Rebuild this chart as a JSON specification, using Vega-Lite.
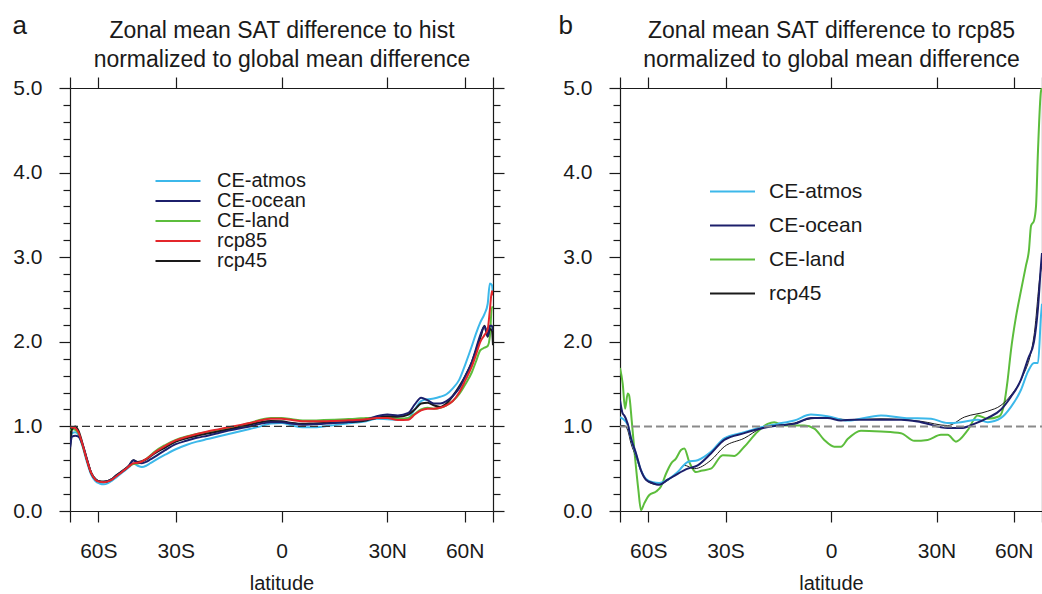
{
  "$schema": "https://vega.github.io/schema/vega-lite/v6.json",
  "padding": {"left": 12, "top": 12, "right": 0, "bottom": 0},
  "background": "white",
  "config": {
    "font": "Liberation Sans",
    "view": {"stroke": null},
    "concat": {"spacing": 53},
    "axis": {
      "grid": false,
      "domainColor": "#1a1a1a",
      "tickColor": "#1a1a1a",
      "domainWidth": 1.2,
      "tickWidth": 1.2,
      "labelFont": "Liberation Sans",
      "labelFontSize": 21,
      "labelColor": "#1a1a1a",
      "titleFont": "Liberation Sans",
      "titleColor": "#1a1a1a",
      "titleFontWeight": "normal",
      "labelFlush": false,
      "labelOverlap": false,
      "labelBound": false
    },
    "legend": {
      "labelFont": "Liberation Sans",
      "labelColor": "#1a1a1a",
      "padding": 0
    }
  },
  "datasets": {
    "a": [
      {"series":"CE-atmos","s":-1,"v":0.78},{"series":"CE-atmos","s":-0.99,"v":0.92},{"series":"CE-atmos","s":-0.975,"v":0.93},{"series":"CE-atmos","s":-0.96,"v":0.9},{"series":"CE-atmos","s":-0.94,"v":0.76},{"series":"CE-atmos","s":-0.92,"v":0.58},{"series":"CE-atmos","s":-0.9,"v":0.43},{"series":"CE-atmos","s":-0.88,"v":0.355},{"series":"CE-atmos","s":-0.86,"v":0.325},{"series":"CE-atmos","s":-0.84,"v":0.315},{"series":"CE-atmos","s":-0.82,"v":0.33},{"series":"CE-atmos","s":-0.8,"v":0.36},{"series":"CE-atmos","s":-0.78,"v":0.4},{"series":"CE-atmos","s":-0.76,"v":0.44},{"series":"CE-atmos","s":-0.74,"v":0.48},{"series":"CE-atmos","s":-0.72,"v":0.52},{"series":"CE-atmos","s":-0.7,"v":0.56},{"series":"CE-atmos","s":-0.68,"v":0.535},{"series":"CE-atmos","s":-0.66,"v":0.52},{"series":"CE-atmos","s":-0.64,"v":0.535},{"series":"CE-atmos","s":-0.62,"v":0.565},{"series":"CE-atmos","s":-0.6,"v":0.595},{"series":"CE-atmos","s":-0.55,"v":0.665},{"series":"CE-atmos","s":-0.5,"v":0.73},{"series":"CE-atmos","s":-0.45,"v":0.78},{"series":"CE-atmos","s":-0.4,"v":0.82},{"series":"CE-atmos","s":-0.35,"v":0.85},{"series":"CE-atmos","s":-0.3,"v":0.88},{"series":"CE-atmos","s":-0.25,"v":0.91},{"series":"CE-atmos","s":-0.2,"v":0.94},{"series":"CE-atmos","s":-0.15,"v":0.97},{"series":"CE-atmos","s":-0.1,"v":1.0},{"series":"CE-atmos","s":-0.05,"v":1.035},{"series":"CE-atmos","s":0,"v":1.04},{"series":"CE-atmos","s":0.05,"v":1.01},{"series":"CE-atmos","s":0.1,"v":0.99},{"series":"CE-atmos","s":0.15,"v":0.99},{"series":"CE-atmos","s":0.2,"v":1.0},{"series":"CE-atmos","s":0.25,"v":1.015},{"series":"CE-atmos","s":0.3,"v":1.03},{"series":"CE-atmos","s":0.35,"v":1.045},{"series":"CE-atmos","s":0.4,"v":1.06},{"series":"CE-atmos","s":0.45,"v":1.09},{"series":"CE-atmos","s":0.5,"v":1.085},{"series":"CE-atmos","s":0.55,"v":1.08},{"series":"CE-atmos","s":0.6,"v":1.1},{"series":"CE-atmos","s":0.63,"v":1.2},{"series":"CE-atmos","s":0.66,"v":1.3},{"series":"CE-atmos","s":0.69,"v":1.32},{"series":"CE-atmos","s":0.72,"v":1.33},{"series":"CE-atmos","s":0.75,"v":1.35},{"series":"CE-atmos","s":0.78,"v":1.38},{"series":"CE-atmos","s":0.81,"v":1.45},{"series":"CE-atmos","s":0.84,"v":1.55},{"series":"CE-atmos","s":0.87,"v":1.74},{"series":"CE-atmos","s":0.9,"v":1.95},{"series":"CE-atmos","s":0.92,"v":2.1},{"series":"CE-atmos","s":0.94,"v":2.23},{"series":"CE-atmos","s":0.96,"v":2.33},{"series":"CE-atmos","s":0.975,"v":2.45},{"series":"CE-atmos","s":0.985,"v":2.69},{"series":"CE-atmos","s":0.995,"v":2.67},{"series":"CE-atmos","s":1,"v":2.55},

      {"series":"CE-land","s":-1,"v":0.95},{"series":"CE-land","s":-0.99,"v":0.97},{"series":"CE-land","s":-0.975,"v":0.96},{"series":"CE-land","s":-0.96,"v":0.92},{"series":"CE-land","s":-0.94,"v":0.77},{"series":"CE-land","s":-0.92,"v":0.6},{"series":"CE-land","s":-0.9,"v":0.45},{"series":"CE-land","s":-0.88,"v":0.375},{"series":"CE-land","s":-0.86,"v":0.35},{"series":"CE-land","s":-0.84,"v":0.345},{"series":"CE-land","s":-0.82,"v":0.355},{"series":"CE-land","s":-0.8,"v":0.38},{"series":"CE-land","s":-0.78,"v":0.42},{"series":"CE-land","s":-0.76,"v":0.455},{"series":"CE-land","s":-0.74,"v":0.49},{"series":"CE-land","s":-0.72,"v":0.53},{"series":"CE-land","s":-0.7,"v":0.555},{"series":"CE-land","s":-0.68,"v":0.56},{"series":"CE-land","s":-0.66,"v":0.58},{"series":"CE-land","s":-0.64,"v":0.615},{"series":"CE-land","s":-0.62,"v":0.655},{"series":"CE-land","s":-0.6,"v":0.7},{"series":"CE-land","s":-0.55,"v":0.78},{"series":"CE-land","s":-0.5,"v":0.84},{"series":"CE-land","s":-0.45,"v":0.88},{"series":"CE-land","s":-0.4,"v":0.91},{"series":"CE-land","s":-0.35,"v":0.935},{"series":"CE-land","s":-0.3,"v":0.955},{"series":"CE-land","s":-0.25,"v":0.98},{"series":"CE-land","s":-0.2,"v":1.005},{"series":"CE-land","s":-0.15,"v":1.04},{"series":"CE-land","s":-0.1,"v":1.08},{"series":"CE-land","s":-0.05,"v":1.1},{"series":"CE-land","s":0,"v":1.1},{"series":"CE-land","s":0.05,"v":1.085},{"series":"CE-land","s":0.1,"v":1.07},{"series":"CE-land","s":0.15,"v":1.07},{"series":"CE-land","s":0.2,"v":1.075},{"series":"CE-land","s":0.25,"v":1.08},{"series":"CE-land","s":0.3,"v":1.085},{"series":"CE-land","s":0.35,"v":1.09},{"series":"CE-land","s":0.4,"v":1.1},{"series":"CE-land","s":0.45,"v":1.105},{"series":"CE-land","s":0.5,"v":1.11},{"series":"CE-land","s":0.55,"v":1.09},{"series":"CE-land","s":0.6,"v":1.1},{"series":"CE-land","s":0.63,"v":1.15},{"series":"CE-land","s":0.66,"v":1.2},{"series":"CE-land","s":0.69,"v":1.22},{"series":"CE-land","s":0.72,"v":1.21},{"series":"CE-land","s":0.75,"v":1.22},{"series":"CE-land","s":0.78,"v":1.25},{"series":"CE-land","s":0.81,"v":1.3},{"series":"CE-land","s":0.84,"v":1.38},{"series":"CE-land","s":0.87,"v":1.5},{"series":"CE-land","s":0.9,"v":1.64},{"series":"CE-land","s":0.92,"v":1.77},{"series":"CE-land","s":0.94,"v":1.9},{"series":"CE-land","s":0.96,"v":1.93},{"series":"CE-land","s":0.975,"v":1.95},{"series":"CE-land","s":0.985,"v":2.06},{"series":"CE-land","s":0.995,"v":2.41},{"series":"CE-land","s":1,"v":2.4},

      {"series":"rcp45","s":-1,"v":0.72},{"series":"rcp45","s":-0.99,"v":0.97},{"series":"rcp45","s":-0.975,"v":1.0},{"series":"rcp45","s":-0.96,"v":0.95},{"series":"rcp45","s":-0.94,"v":0.79},{"series":"rcp45","s":-0.92,"v":0.61},{"series":"rcp45","s":-0.9,"v":0.45},{"series":"rcp45","s":-0.88,"v":0.375},{"series":"rcp45","s":-0.86,"v":0.35},{"series":"rcp45","s":-0.84,"v":0.345},{"series":"rcp45","s":-0.82,"v":0.355},{"series":"rcp45","s":-0.8,"v":0.38},{"series":"rcp45","s":-0.78,"v":0.425},{"series":"rcp45","s":-0.76,"v":0.46},{"series":"rcp45","s":-0.74,"v":0.495},{"series":"rcp45","s":-0.72,"v":0.54},{"series":"rcp45","s":-0.7,"v":0.6},{"series":"rcp45","s":-0.68,"v":0.58},{"series":"rcp45","s":-0.66,"v":0.59},{"series":"rcp45","s":-0.64,"v":0.61},{"series":"rcp45","s":-0.62,"v":0.645},{"series":"rcp45","s":-0.6,"v":0.68},{"series":"rcp45","s":-0.55,"v":0.75},{"series":"rcp45","s":-0.5,"v":0.82},{"series":"rcp45","s":-0.45,"v":0.86},{"series":"rcp45","s":-0.4,"v":0.89},{"series":"rcp45","s":-0.35,"v":0.915},{"series":"rcp45","s":-0.3,"v":0.94},{"series":"rcp45","s":-0.25,"v":0.965},{"series":"rcp45","s":-0.2,"v":0.99},{"series":"rcp45","s":-0.15,"v":1.02},{"series":"rcp45","s":-0.1,"v":1.05},{"series":"rcp45","s":-0.05,"v":1.065},{"series":"rcp45","s":0,"v":1.06},{"series":"rcp45","s":0.05,"v":1.04},{"series":"rcp45","s":0.1,"v":1.03},{"series":"rcp45","s":0.15,"v":1.035},{"series":"rcp45","s":0.2,"v":1.04},{"series":"rcp45","s":0.25,"v":1.045},{"series":"rcp45","s":0.3,"v":1.05},{"series":"rcp45","s":0.35,"v":1.055},{"series":"rcp45","s":0.4,"v":1.07},{"series":"rcp45","s":0.45,"v":1.1},{"series":"rcp45","s":0.5,"v":1.12},{"series":"rcp45","s":0.55,"v":1.115},{"series":"rcp45","s":0.6,"v":1.14},{"series":"rcp45","s":0.63,"v":1.2},{"series":"rcp45","s":0.66,"v":1.27},{"series":"rcp45","s":0.69,"v":1.28},{"series":"rcp45","s":0.72,"v":1.25},{"series":"rcp45","s":0.75,"v":1.23},{"series":"rcp45","s":0.78,"v":1.27},{"series":"rcp45","s":0.81,"v":1.36},{"series":"rcp45","s":0.84,"v":1.47},{"series":"rcp45","s":0.87,"v":1.6},{"series":"rcp45","s":0.9,"v":1.76},{"series":"rcp45","s":0.92,"v":1.9},{"series":"rcp45","s":0.94,"v":2.05},{"series":"rcp45","s":0.96,"v":2.19},{"series":"rcp45","s":0.975,"v":2.06},{"series":"rcp45","s":0.985,"v":2.15},{"series":"rcp45","s":0.995,"v":2.13},{"series":"rcp45","s":1,"v":1.96},

      {"series":"CE-ocean","s":-1,"v":0.75},{"series":"CE-ocean","s":-0.99,"v":0.88},{"series":"CE-ocean","s":-0.975,"v":0.89},{"series":"CE-ocean","s":-0.96,"v":0.88},{"series":"CE-ocean","s":-0.94,"v":0.78},{"series":"CE-ocean","s":-0.92,"v":0.61},{"series":"CE-ocean","s":-0.9,"v":0.45},{"series":"CE-ocean","s":-0.88,"v":0.375},{"series":"CE-ocean","s":-0.86,"v":0.35},{"series":"CE-ocean","s":-0.84,"v":0.345},{"series":"CE-ocean","s":-0.82,"v":0.355},{"series":"CE-ocean","s":-0.8,"v":0.38},{"series":"CE-ocean","s":-0.78,"v":0.42},{"series":"CE-ocean","s":-0.76,"v":0.455},{"series":"CE-ocean","s":-0.74,"v":0.49},{"series":"CE-ocean","s":-0.72,"v":0.54},{"series":"CE-ocean","s":-0.7,"v":0.6},{"series":"CE-ocean","s":-0.68,"v":0.57},{"series":"CE-ocean","s":-0.66,"v":0.565},{"series":"CE-ocean","s":-0.64,"v":0.58},{"series":"CE-ocean","s":-0.62,"v":0.61},{"series":"CE-ocean","s":-0.6,"v":0.64},{"series":"CE-ocean","s":-0.55,"v":0.72},{"series":"CE-ocean","s":-0.5,"v":0.79},{"series":"CE-ocean","s":-0.45,"v":0.83},{"series":"CE-ocean","s":-0.4,"v":0.865},{"series":"CE-ocean","s":-0.35,"v":0.89},{"series":"CE-ocean","s":-0.3,"v":0.92},{"series":"CE-ocean","s":-0.25,"v":0.95},{"series":"CE-ocean","s":-0.2,"v":0.975},{"series":"CE-ocean","s":-0.15,"v":1.0},{"series":"CE-ocean","s":-0.1,"v":1.03},{"series":"CE-ocean","s":-0.05,"v":1.05},{"series":"CE-ocean","s":0,"v":1.05},{"series":"CE-ocean","s":0.05,"v":1.03},{"series":"CE-ocean","s":0.1,"v":1.02},{"series":"CE-ocean","s":0.15,"v":1.025},{"series":"CE-ocean","s":0.2,"v":1.03},{"series":"CE-ocean","s":0.25,"v":1.04},{"series":"CE-ocean","s":0.3,"v":1.05},{"series":"CE-ocean","s":0.35,"v":1.06},{"series":"CE-ocean","s":0.4,"v":1.08},{"series":"CE-ocean","s":0.45,"v":1.12},{"series":"CE-ocean","s":0.5,"v":1.14},{"series":"CE-ocean","s":0.55,"v":1.13},{"series":"CE-ocean","s":0.6,"v":1.16},{"series":"CE-ocean","s":0.63,"v":1.26},{"series":"CE-ocean","s":0.66,"v":1.34},{"series":"CE-ocean","s":0.69,"v":1.31},{"series":"CE-ocean","s":0.72,"v":1.27},{"series":"CE-ocean","s":0.75,"v":1.27},{"series":"CE-ocean","s":0.78,"v":1.3},{"series":"CE-ocean","s":0.81,"v":1.36},{"series":"CE-ocean","s":0.84,"v":1.45},{"series":"CE-ocean","s":0.87,"v":1.6},{"series":"CE-ocean","s":0.9,"v":1.76},{"series":"CE-ocean","s":0.92,"v":1.92},{"series":"CE-ocean","s":0.94,"v":2.08},{"series":"CE-ocean","s":0.96,"v":2.18},{"series":"CE-ocean","s":0.975,"v":2.07},{"series":"CE-ocean","s":0.985,"v":2.19},{"series":"CE-ocean","s":0.995,"v":2.19},{"series":"CE-ocean","s":1,"v":2.13},

      {"series":"rcp85","s":-1,"v":1.0},{"series":"rcp85","s":-0.99,"v":0.99},{"series":"rcp85","s":-0.975,"v":0.98},{"series":"rcp85","s":-0.96,"v":0.93},{"series":"rcp85","s":-0.94,"v":0.78},{"series":"rcp85","s":-0.92,"v":0.6},{"series":"rcp85","s":-0.9,"v":0.45},{"series":"rcp85","s":-0.88,"v":0.37},{"series":"rcp85","s":-0.86,"v":0.345},{"series":"rcp85","s":-0.84,"v":0.34},{"series":"rcp85","s":-0.82,"v":0.35},{"series":"rcp85","s":-0.8,"v":0.375},{"series":"rcp85","s":-0.78,"v":0.41},{"series":"rcp85","s":-0.76,"v":0.45},{"series":"rcp85","s":-0.74,"v":0.49},{"series":"rcp85","s":-0.72,"v":0.53},{"series":"rcp85","s":-0.7,"v":0.565},{"series":"rcp85","s":-0.68,"v":0.57},{"series":"rcp85","s":-0.66,"v":0.585},{"series":"rcp85","s":-0.64,"v":0.615},{"series":"rcp85","s":-0.62,"v":0.65},{"series":"rcp85","s":-0.6,"v":0.69},{"series":"rcp85","s":-0.55,"v":0.77},{"series":"rcp85","s":-0.5,"v":0.835},{"series":"rcp85","s":-0.45,"v":0.875},{"series":"rcp85","s":-0.4,"v":0.91},{"series":"rcp85","s":-0.35,"v":0.94},{"series":"rcp85","s":-0.3,"v":0.965},{"series":"rcp85","s":-0.25,"v":0.99},{"series":"rcp85","s":-0.2,"v":1.015},{"series":"rcp85","s":-0.15,"v":1.04},{"series":"rcp85","s":-0.1,"v":1.07},{"series":"rcp85","s":-0.05,"v":1.09},{"series":"rcp85","s":0,"v":1.09},{"series":"rcp85","s":0.05,"v":1.075},{"series":"rcp85","s":0.1,"v":1.06},{"series":"rcp85","s":0.15,"v":1.06},{"series":"rcp85","s":0.2,"v":1.06},{"series":"rcp85","s":0.25,"v":1.065},{"series":"rcp85","s":0.3,"v":1.07},{"series":"rcp85","s":0.35,"v":1.075},{"series":"rcp85","s":0.4,"v":1.085},{"series":"rcp85","s":0.45,"v":1.1},{"series":"rcp85","s":0.5,"v":1.1},{"series":"rcp85","s":0.55,"v":1.075},{"series":"rcp85","s":0.6,"v":1.08},{"series":"rcp85","s":0.63,"v":1.14},{"series":"rcp85","s":0.66,"v":1.19},{"series":"rcp85","s":0.69,"v":1.21},{"series":"rcp85","s":0.72,"v":1.21},{"series":"rcp85","s":0.75,"v":1.22},{"series":"rcp85","s":0.78,"v":1.25},{"series":"rcp85","s":0.81,"v":1.3},{"series":"rcp85","s":0.84,"v":1.4},{"series":"rcp85","s":0.87,"v":1.55},{"series":"rcp85","s":0.9,"v":1.71},{"series":"rcp85","s":0.92,"v":1.85},{"series":"rcp85","s":0.94,"v":2.0},{"series":"rcp85","s":0.96,"v":2.08},{"series":"rcp85","s":0.975,"v":2.15},{"series":"rcp85","s":0.985,"v":2.37},{"series":"rcp85","s":0.995,"v":2.6},{"series":"rcp85","s":1,"v":2.55}
    ],
    "b": [
      {"series":"CE-land","s":-1,"v":1.69},{"series":"CE-land","s":-0.987,"v":1.5},{"series":"CE-land","s":-0.976,"v":1.21},{"series":"CE-land","s":-0.9635,"v":1.39},{"series":"CE-land","s":-0.957,"v":1.37},{"series":"CE-land","s":-0.9445,"v":1.07},{"series":"CE-land","s":-0.929,"v":0.64},{"series":"CE-land","s":-0.913,"v":0.25},{"series":"CE-land","s":-0.9005,"v":0.01},{"series":"CE-land","s":-0.885,"v":0.09},{"series":"CE-land","s":-0.861,"v":0.19},{"series":"CE-land","s":-0.829,"v":0.23},{"series":"CE-land","s":-0.806,"v":0.29},{"series":"CE-land","s":-0.782,"v":0.44},{"series":"CE-land","s":-0.758,"v":0.56},{"series":"CE-land","s":-0.735,"v":0.62},{"series":"CE-land","s":-0.711,"v":0.72},{"series":"CE-land","s":-0.695,"v":0.74},{"series":"CE-land","s":-0.672,"v":0.58},{"series":"CE-land","s":-0.64,"v":0.46},{"series":"CE-land","s":-0.616,"v":0.475},{"series":"CE-land","s":-0.569,"v":0.5},{"series":"CE-land","s":-0.513,"v":0.66},{"series":"CE-land","s":-0.458,"v":0.65},{"series":"CE-land","s":-0.411,"v":0.76},{"series":"CE-land","s":-0.347,"v":0.94},{"series":"CE-land","s":-0.3,"v":1.03},{"series":"CE-land","s":-0.269,"v":1.05},{"series":"CE-land","s":-0.221,"v":1.01},{"series":"CE-land","s":-0.1265,"v":1.01},{"series":"CE-land","s":-0.079,"v":0.975},{"series":"CE-land","s":-0.032,"v":0.84},{"series":"CE-land","s":0.0156,"v":0.76},{"series":"CE-land","s":0.047,"v":0.76},{"series":"CE-land","s":0.079,"v":0.85},{"series":"CE-land","s":0.142,"v":0.95},{"series":"CE-land","s":0.237,"v":0.94},{"series":"CE-land","s":0.332,"v":0.92},{"series":"CE-land","s":0.395,"v":0.83},{"series":"CE-land","s":0.458,"v":0.84},{"series":"CE-land","s":0.521,"v":0.9},{"series":"CE-land","s":0.553,"v":0.9},{"series":"CE-land","s":0.592,"v":0.82},{"series":"CE-land","s":0.648,"v":0.955},{"series":"CE-land","s":0.695,"v":1.13},{"series":"CE-land","s":0.743,"v":1.09},{"series":"CE-land","s":0.798,"v":1.12},{"series":"CE-land","s":0.821,"v":1.27},{"series":"CE-land","s":0.837,"v":1.545},{"series":"CE-land","s":0.853,"v":1.9},{"series":"CE-land","s":0.877,"v":2.3},{"series":"CE-land","s":0.9,"v":2.6},{"series":"CE-land","s":0.924,"v":2.9},{"series":"CE-land","s":0.938,"v":3.08},{"series":"CE-land","s":0.948,"v":3.37},{"series":"CE-land","s":0.962,"v":3.43},{"series":"CE-land","s":0.9716,"v":3.6},{"series":"CE-land","s":0.981,"v":4.26},{"series":"CE-land","s":0.995,"v":4.96},{"series":"CE-land","s":1,"v":5.0},

      {"series":"rcp45","s":-1,"v":1.01},{"series":"rcp45","s":-0.98,"v":1.01},{"series":"rcp45","s":-0.9635,"v":0.955},{"series":"rcp45","s":-0.948,"v":0.8},{"series":"rcp45","s":-0.924,"v":0.64},{"series":"rcp45","s":-0.9005,"v":0.47},{"series":"rcp45","s":-0.877,"v":0.37},{"series":"rcp45","s":-0.845,"v":0.32},{"series":"rcp45","s":-0.82,"v":0.31},{"series":"rcp45","s":-0.774,"v":0.36},{"series":"rcp45","s":-0.7265,"v":0.46},{"series":"rcp45","s":-0.695,"v":0.54},{"series":"rcp45","s":-0.648,"v":0.5},{"series":"rcp45","s":-0.569,"v":0.6},{"series":"rcp45","s":-0.506,"v":0.76},{"series":"rcp45","s":-0.411,"v":0.86},{"series":"rcp45","s":-0.332,"v":0.975},{"series":"rcp45","s":-0.253,"v":1.01},{"series":"rcp45","s":-0.174,"v":1.04},{"series":"rcp45","s":-0.095,"v":1.09},{"series":"rcp45","s":-0.016,"v":1.1},{"series":"rcp45","s":0.079,"v":1.08},{"series":"rcp45","s":0.237,"v":1.09},{"series":"rcp45","s":0.4265,"v":1.06},{"series":"rcp45","s":0.553,"v":1.01},{"series":"rcp45","s":0.632,"v":1.11},{"series":"rcp45","s":0.743,"v":1.18},{"series":"rcp45","s":0.806,"v":1.25},{"series":"rcp45","s":0.853,"v":1.37},{"series":"rcp45","s":0.9,"v":1.55},{"series":"rcp45","s":0.962,"v":2.07},{"series":"rcp45","s":0.995,"v":2.85},{"series":"rcp45","s":1,"v":2.9},

      {"series":"CE-atmos","s":-1,"v":1.11},{"series":"CE-atmos","s":-0.987,"v":1.09},{"series":"CE-atmos","s":-0.9635,"v":1.02},{"series":"CE-atmos","s":-0.948,"v":0.86},{"series":"CE-atmos","s":-0.924,"v":0.67},{"series":"CE-atmos","s":-0.9005,"v":0.48},{"series":"CE-atmos","s":-0.877,"v":0.38},{"series":"CE-atmos","s":-0.845,"v":0.34},{"series":"CE-atmos","s":-0.814,"v":0.33},{"series":"CE-atmos","s":-0.774,"v":0.37},{"series":"CE-atmos","s":-0.7265,"v":0.46},{"series":"CE-atmos","s":-0.679,"v":0.58},{"series":"CE-atmos","s":-0.632,"v":0.6},{"series":"CE-atmos","s":-0.569,"v":0.7},{"series":"CE-atmos","s":-0.506,"v":0.86},{"series":"CE-atmos","s":-0.411,"v":0.93},{"series":"CE-atmos","s":-0.332,"v":0.99},{"series":"CE-atmos","s":-0.253,"v":1.03},{"series":"CE-atmos","s":-0.174,"v":1.07},{"series":"CE-atmos","s":-0.095,"v":1.14},{"series":"CE-atmos","s":-0.016,"v":1.12},{"series":"CE-atmos","s":0.079,"v":1.07},{"series":"CE-atmos","s":0.237,"v":1.13},{"series":"CE-atmos","s":0.347,"v":1.1},{"series":"CE-atmos","s":0.474,"v":1.09},{"series":"CE-atmos","s":0.553,"v":1.04},{"series":"CE-atmos","s":0.616,"v":1.05},{"series":"CE-atmos","s":0.695,"v":1.08},{"series":"CE-atmos","s":0.743,"v":1.05},{"series":"CE-atmos","s":0.806,"v":1.1},{"series":"CE-atmos","s":0.853,"v":1.23},{"series":"CE-atmos","s":0.9,"v":1.43},{"series":"CE-atmos","s":0.934,"v":1.65},{"series":"CE-atmos","s":0.962,"v":1.75},{"series":"CE-atmos","s":0.981,"v":1.75},{"series":"CE-atmos","s":0.995,"v":2.3},{"series":"CE-atmos","s":1,"v":2.45},

      {"series":"CE-ocean","s":-1,"v":1.31},{"series":"CE-ocean","s":-0.987,"v":1.15},{"series":"CE-ocean","s":-0.98,"v":1.13},{"series":"CE-ocean","s":-0.9635,"v":1.03},{"series":"CE-ocean","s":-0.948,"v":0.86},{"series":"CE-ocean","s":-0.924,"v":0.68},{"series":"CE-ocean","s":-0.9005,"v":0.48},{"series":"CE-ocean","s":-0.877,"v":0.37},{"series":"CE-ocean","s":-0.845,"v":0.33},{"series":"CE-ocean","s":-0.814,"v":0.31},{"series":"CE-ocean","s":-0.774,"v":0.37},{"series":"CE-ocean","s":-0.7265,"v":0.44},{"series":"CE-ocean","s":-0.679,"v":0.5},{"series":"CE-ocean","s":-0.632,"v":0.54},{"series":"CE-ocean","s":-0.569,"v":0.68},{"series":"CE-ocean","s":-0.506,"v":0.84},{"series":"CE-ocean","s":-0.411,"v":0.92},{"series":"CE-ocean","s":-0.332,"v":0.975},{"series":"CE-ocean","s":-0.253,"v":1.01},{"series":"CE-ocean","s":-0.174,"v":1.03},{"series":"CE-ocean","s":-0.095,"v":1.1},{"series":"CE-ocean","s":-0.016,"v":1.1},{"series":"CE-ocean","s":0.047,"v":1.07},{"series":"CE-ocean","s":0.109,"v":1.08},{"series":"CE-ocean","s":0.237,"v":1.08},{"series":"CE-ocean","s":0.332,"v":1.08},{"series":"CE-ocean","s":0.4265,"v":1.05},{"series":"CE-ocean","s":0.553,"v":0.98},{"series":"CE-ocean","s":0.616,"v":0.98},{"series":"CE-ocean","s":0.679,"v":1.03},{"series":"CE-ocean","s":0.743,"v":1.1},{"series":"CE-ocean","s":0.806,"v":1.2},{"series":"CE-ocean","s":0.853,"v":1.35},{"series":"CE-ocean","s":0.9,"v":1.55},{"series":"CE-ocean","s":0.934,"v":1.8},{"series":"CE-ocean","s":0.962,"v":2.0},{"series":"CE-ocean","s":0.981,"v":2.4},{"series":"CE-ocean","s":0.995,"v":2.9},{"series":"CE-ocean","s":1,"v":3.05}
    ]
  },
  "resolve": {
    "scale": {"color": "independent", "x": "independent", "y": "independent"},
    "legend": {"color": "independent"}
  },
  "hconcat": [
    {
      "width": 423,
      "height": 423,
      "layer": [
        {
          "data": {"name": "a"},
          "mark": {"type": "line", "strokeWidth": 2, "interpolate": "monotone", "clip": true},
          "encoding": {
            "x": {
              "field": "s", "type": "quantitative",
              "scale": {"domain": [-1, 1], "nice": false, "zero": false},
              "axis": {
                "orient": "bottom",
                "values": [-1, -0.8660254, -0.5, 0, 0.5, 0.8660254, 1],
                "labelExpr": "datum.value < -0.99 || datum.value > 0.99 ? '' : datum.value < -0.7 ? '60S' : datum.value < -0.3 ? '30S' : datum.value < 0.3 ? '0' : datum.value < 0.7 ? '30N' : '60N'",
                "tickSize": 11,
                "labelPadding": 18,
                "title": "latitude",
                "titleFontSize": 20,
                "titlePadding": 12
              }
            },
            "y": {
              "field": "v", "type": "quantitative",
              "scale": {"domain": [0, 5], "nice": false},
              "axis": {
                "orient": "left",
                "values": [0,0.2,0.4,0.6,0.8,1,1.2,1.4,1.6,1.8,2,2.2,2.4,2.6,2.8,3,3.2,3.4,3.6,3.8,4,4.2,4.4,4.6,4.8,5],
                "tickSize": {"condition": {"test": "abs(datum.value - round(datum.value)) < 0.01", "value": 11}, "value": 7},
                "labelExpr": "abs(datum.value - round(datum.value)) < 0.01 ? format(datum.value, '.1f') : ''",
                "labelPadding": 17,
                "title": "a",
                "titleAngle": 0,
                "titleAlign": "left",
                "titleBaseline": "alphabetic",
                "titleX": -58,
                "titleY": -55,
                "titleFontSize": 26
              }
            },
            "color": {
              "field": "series", "type": "nominal",
              "scale": {
                "domain": ["CE-atmos", "CE-ocean", "CE-land", "rcp85", "rcp45"],
                "range": ["#3cb8ea", "#1c1f6b", "#5cbd3c", "#e3262b", "#1a1a1a"]
              },
              "legend": {
                "orient": "none",
                "legendX": 98,
                "legendY": 83,
                "title": null,
                "symbolType": "M-3,0H3",
                "symbolSize": 225,
                "symbolStrokeWidth": 2,
                "labelFontSize": 20,
                "labelOffset": 29,
                "rowPadding": 0
              }
            }
          }
        },
        {
          "data": {"values": [{"ref": 1}]},
          "mark": {"type": "rule", "color": "#333333", "strokeWidth": 1.3, "strokeDash": [8, 4]},
          "encoding": {
            "y": {
              "field": "ref", "type": "quantitative",
              "axis": {
                "orient": "right",
                "values": [0,0.2,0.4,0.6,0.8,1,1.2,1.4,1.6,1.8,2,2.2,2.4,2.6,2.8,3,3.2,3.4,3.6,3.8,4,4.2,4.4,4.6,4.8,5],
                "tickSize": {"condition": {"test": "abs(datum.value - round(datum.value)) < 0.01", "value": 11}, "value": 7},
                "labels": false,
                "title": null
              }
            },
            "x": {
              "datum": -1, "type": "quantitative",
              "axis": {
                "orient": "top",
                "values": [-1, -0.8660254, -0.5, 0, 0.5, 0.8660254, 1],
                "tickSize": 11,
                "labels": false,
                "title": ["Zonal mean SAT difference to hist", "normalized to global mean difference"],
                "titleFontSize": 23,
                "titleLineHeight": 29,
                "titlePadding": 5
              }
            },
            "x2": {"datum": 1}
          }
        }
      ],
      "resolve": {"axis": {"x": "independent", "y": "independent"}}
    },
    {
      "width": 422,
      "height": 423,
      "layer": [
        {
          "data": {"name": "b"},
          "mark": {"type": "line", "interpolate": "monotone", "clip": true},
          "encoding": {
            "x": {
              "field": "s", "type": "quantitative",
              "scale": {"domain": [-1, 1], "nice": false, "zero": false},
              "axis": {
                "orient": "bottom",
                "values": [-1, -0.8660254, -0.5, 0, 0.5, 0.8660254, 1],
                "labelExpr": "datum.value < -0.99 || datum.value > 0.99 ? '' : datum.value < -0.7 ? '60S' : datum.value < -0.3 ? '30S' : datum.value < 0.3 ? '0' : datum.value < 0.7 ? '30N' : '60N'",
                "tickSize": 11,
                "labelPadding": 18,
                "title": "latitude",
                "titleFontSize": 20,
                "titlePadding": 12
              }
            },
            "y": {
              "field": "v", "type": "quantitative",
              "scale": {"domain": [0, 5], "nice": false},
              "axis": {
                "orient": "left",
                "values": [0,0.2,0.4,0.6,0.8,1,1.2,1.4,1.6,1.8,2,2.2,2.4,2.6,2.8,3,3.2,3.4,3.6,3.8,4,4.2,4.4,4.6,4.8,5],
                "tickSize": {"condition": {"test": "abs(datum.value - round(datum.value)) < 0.01", "value": 11}, "value": 7},
                "labelExpr": "abs(datum.value - round(datum.value)) < 0.01 ? format(datum.value, '.1f') : ''",
                "labelPadding": 17,
                "title": "b",
                "titleAngle": 0,
                "titleAlign": "left",
                "titleBaseline": "alphabetic",
                "titleX": -62,
                "titleY": -55,
                "titleFontSize": 26
              }
            },
            "color": {
              "field": "series", "type": "nominal",
              "scale": {
                "domain": ["CE-atmos", "CE-ocean", "CE-land", "rcp45"],
                "range": ["#3cb8ea", "#1c1f6b", "#5cbd3c", "#1a1a1a"]
              },
              "legend": {
                "orient": "none",
                "legendX": 89,
                "legendY": 80,
                "title": null,
                "symbolType": "stroke",
                "symbolSize": 2025,
                "symbolStrokeWidth": 2,
                "labelFontSize": 21,
                "labelOffset": 13,
                "rowPadding": -0.5
              }
            },
            "strokeWidth": {"condition": {"test": "datum.series === 'rcp45'", "value": 1}, "value": 2}
          }
        },
        {
          "data": {"values": [{"ref": 1}]},
          "mark": {"type": "rule", "color": "#8a8a8a", "strokeWidth": 2, "strokeDash": [8, 4]},
          "encoding": {
            "y": {
              "field": "ref", "type": "quantitative",
              "axis": {
                "orient": "right",
                "values": [0,0.2,0.4,0.6,0.8,1,1.2,1.4,1.6,1.8,2,2.2,2.4,2.6,2.8,3,3.2,3.4,3.6,3.8,4,4.2,4.4,4.6,4.8,5],
                "tickSize": {"condition": {"test": "abs(datum.value - round(datum.value)) < 0.01", "value": 11}, "value": 7},
                "labels": false,
                "title": null
              }
            },
            "x": {
              "datum": -1, "type": "quantitative",
              "axis": {
                "orient": "top",
                "values": [-1, -0.8660254, -0.5, 0, 0.5, 0.8660254, 1],
                "tickSize": 11,
                "labels": false,
                "title": ["Zonal mean SAT difference to rcp85", "normalized to global mean difference"],
                "titleFontSize": 23,
                "titleLineHeight": 29,
                "titlePadding": 5
              }
            },
            "x2": {"datum": 1}
          }
        }
      ],
      "resolve": {"axis": {"x": "independent", "y": "independent"}}
    }
  ]
}
